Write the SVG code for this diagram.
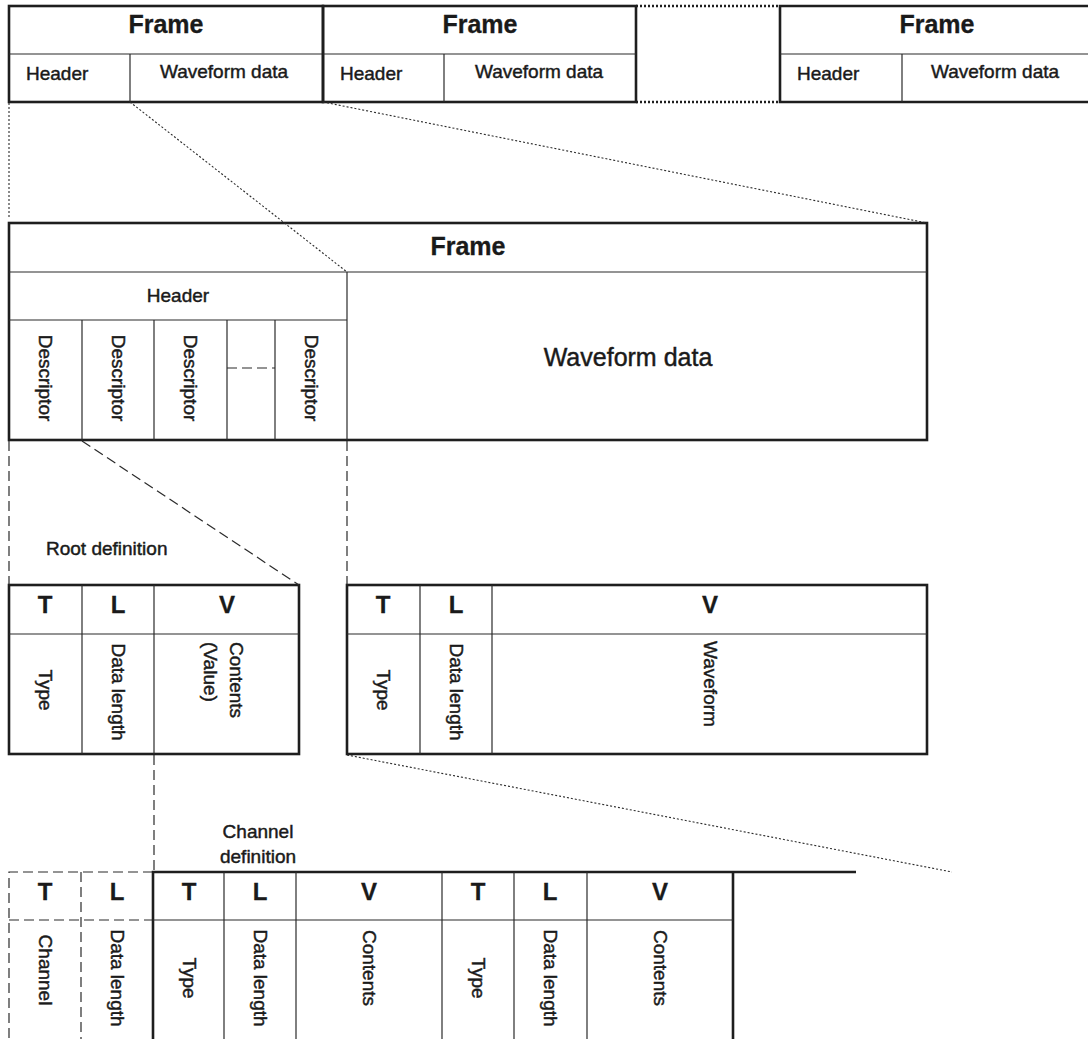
<svg xmlns="http://www.w3.org/2000/svg" width="1088" height="1039" viewBox="0 0 1088 1039">
<style>
.thick{fill:none;stroke:#1e1e1e;stroke-width:2.6}
.thin{fill:none;stroke:#2a2a2a;stroke-width:1.2}
.dash{fill:none;stroke:#2a2a2a;stroke-width:1.2;stroke-dasharray:10 5}
.dot{fill:none;stroke:#2a2a2a;stroke-width:1.1;stroke-dasharray:2 2}
.dotthick{fill:none;stroke:#1e1e1e;stroke-width:2.6;stroke-dasharray:2 2}
text{font-family:"Liberation Sans",Arial,sans-serif;fill:#1a1a1a;stroke:#1a1a1a;stroke-width:0.45}
.r{font-size:19px}
.b{font-size:25px;font-weight:bold;stroke-width:0.3}
.tlv{font-size:24px;font-weight:bold;text-anchor:middle;stroke-width:0.3}
.c{text-anchor:middle}
.v{font-size:19px;dominant-baseline:central}
</style>
<rect width="1088" height="1039" fill="#ffffff"/>

<g id="top-frame-1">
<rect class="thick" x="9" y="6" width="314" height="96"/>
<line class="thin" x1="9" y1="54" x2="323" y2="54"/>
<line class="thin" x1="130" y1="54" x2="130" y2="102"/>
<text class="b c" x="166" y="33">Frame</text>
<text class="r" x="26" y="80">Header</text>
<text class="r c" x="224" y="78">Waveform data</text>
</g>
<g id="top-frame-2">
<rect class="thick" x="323" y="6" width="313" height="96"/>
<line class="thin" x1="323" y1="54" x2="636" y2="54"/>
<line class="thin" x1="444" y1="54" x2="444" y2="102"/>
<text class="b c" x="480" y="33">Frame</text>
<text class="r" x="340" y="80">Header</text>
<text class="r c" x="539" y="78">Waveform data</text>
</g>
<g id="top-gap">
<line class="dotthick" x1="636" y1="6" x2="780" y2="6"/>
<line class="dotthick" x1="636" y1="102" x2="780" y2="102"/>
</g>
<g id="top-frame-3">
<path class="thick" d="M1092 6 H780 V102 H1092"/>
<line class="thin" x1="780" y1="54" x2="1088" y2="54"/>
<line class="thin" x1="902" y1="54" x2="902" y2="102"/>
<text class="b c" x="937" y="33">Frame</text>
<text class="r" x="797" y="80">Header</text>
<text class="r c" x="995" y="78">Waveform data</text>
</g>

<g id="frame-detail">
<rect class="thick" x="9" y="223" width="918" height="217"/>
<line class="thin" x1="9" y1="272" x2="927" y2="272"/>
<line class="thin" x1="9" y1="320" x2="347" y2="320"/>
<line class="thin" x1="347" y1="272" x2="347" y2="440"/>
<line class="thin" x1="82" y1="320" x2="82" y2="440"/>
<line class="thin" x1="154" y1="320" x2="154" y2="440"/>
<line class="thin" x1="227" y1="320" x2="227" y2="440"/>
<line class="thin" x1="275" y1="320" x2="275" y2="440"/>
<line class="thin" x1="227" y1="368" x2="275" y2="368" stroke-dasharray="10 5"/>
<text class="b c" x="468" y="255">Frame</text>
<text class="r c" x="178" y="302">Header</text>
<text class="v c" transform="translate(45,378) rotate(90)">Descriptor</text>
<text class="v c" transform="translate(118,378) rotate(90)">Descriptor</text>
<text class="v c" transform="translate(190,378) rotate(90)">Descriptor</text>
<text class="v c" transform="translate(311,378) rotate(90)">Descriptor</text>
<text class="c" x="628" y="366" style="font-size:25px">Waveform data</text>
</g>

<g id="root-definition">
<text class="r" x="46" y="555">Root definition</text>
<rect class="thick" x="9" y="585" width="290" height="169"/>
<line class="thin" x1="9" y1="634" x2="299" y2="634"/>
<line class="thin" x1="82" y1="585" x2="82" y2="754"/>
<line class="thin" x1="154" y1="585" x2="154" y2="754"/>
<text class="tlv" x="45" y="613">T</text>
<text class="tlv" x="118" y="613">L</text>
<text class="tlv" x="227" y="613">V</text>
<text class="v c" transform="translate(45,690) rotate(90)">Type</text>
<text class="v c" transform="translate(118,692) rotate(90)">Data length</text>
<text class="v" transform="translate(236,642) rotate(90)">Contents</text>
<text class="v" transform="translate(210,642) rotate(90)">(Value)</text>
</g>

<g id="waveform-tlv">
<rect class="thick" x="347" y="585" width="580" height="169"/>
<line class="thin" x1="347" y1="634" x2="927" y2="634"/>
<line class="thin" x1="420" y1="585" x2="420" y2="754"/>
<line class="thin" x1="492" y1="585" x2="492" y2="754"/>
<text class="tlv" x="383" y="613">T</text>
<text class="tlv" x="456" y="613">L</text>
<text class="tlv" x="710" y="613">V</text>
<text class="v c" transform="translate(383,690) rotate(90)">Type</text>
<text class="v c" transform="translate(456,692) rotate(90)">Data length</text>
<text class="v" transform="translate(710,641) rotate(90)">Waveform</text>
</g>

<g id="channel-definition">
<text class="r c" x="258" y="838">Channel</text>
<text class="r c" x="258" y="863">definition</text>
<path class="dash" d="M153 872 H9 V1039 M81 872 V1039 M9 920 H153"/>
<path class="thick" d="M153 1039 V872 H856 M733 872 V1039"/>
<line class="thin" x1="153" y1="920" x2="733" y2="920"/>
<line class="thin" x1="224" y1="872" x2="224" y2="1039"/>
<line class="thin" x1="296" y1="872" x2="296" y2="1039"/>
<line class="thin" x1="442" y1="872" x2="442" y2="1039"/>
<line class="thin" x1="514" y1="872" x2="514" y2="1039"/>
<line class="thin" x1="587" y1="872" x2="587" y2="1039"/>
<text class="tlv" x="45" y="900">T</text>
<text class="tlv" x="117" y="900">L</text>
<text class="tlv" x="189" y="900">T</text>
<text class="tlv" x="260" y="900">L</text>
<text class="tlv" x="369" y="900">V</text>
<text class="tlv" x="478" y="900">T</text>
<text class="tlv" x="550" y="900">L</text>
<text class="tlv" x="660" y="900">V</text>
<text class="v c" transform="translate(45,970) rotate(90)">Channel</text>
<text class="v c" transform="translate(117,978) rotate(90)">Data length</text>
<text class="v c" transform="translate(189,978) rotate(90)">Type</text>
<text class="v c" transform="translate(260,978) rotate(90)">Data length</text>
<text class="v c" transform="translate(369,968) rotate(90)">Contents</text>
<text class="v c" transform="translate(478,978) rotate(90)">Type</text>
<text class="v c" transform="translate(550,978) rotate(90)">Data length</text>
<text class="v c" transform="translate(660,968) rotate(90)">Contents</text>
</g>

<g id="connectors">
<line class="dot" x1="9" y1="103" x2="9" y2="218" stroke-dasharray="1 3"/>
<line class="dot" x1="130" y1="102" x2="347" y2="272"/>
<line class="dot" x1="323" y1="102" x2="927" y2="223"/>
<line class="dash" x1="9" y1="441" x2="9" y2="585"/>
<line class="dash" x1="82" y1="441" x2="299" y2="585"/>
<line class="dash" x1="347" y1="441" x2="347" y2="585"/>
<line class="dash" x1="154" y1="755" x2="154" y2="872"/>
<line class="dot" x1="347" y1="755" x2="952" y2="872"/>
</g>
</svg>
